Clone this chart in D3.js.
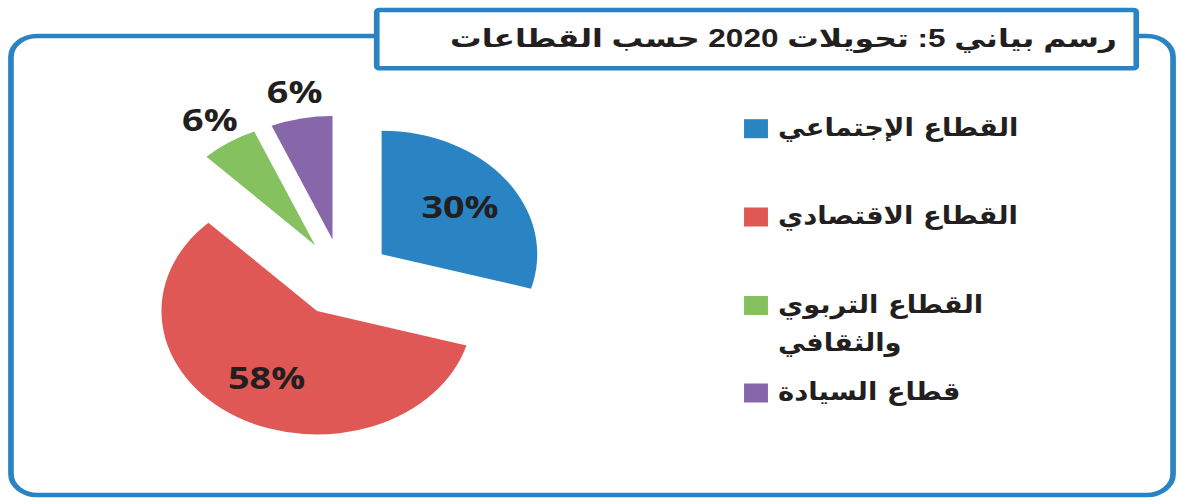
<!DOCTYPE html>
<html>
<head>
<meta charset="utf-8">
<script src="https://cdn.jsdelivr.net/npm/d3@7"></script>
<style>
  body { margin: 0; background: #fff; }
  svg { display: block; }
</style>
</head>
<body>
<div id="chart"></div>
<script>
// data
var title = "رسم بياني 5: تحويلات 2020 حسب القطاعات";
var sectors = ["القطاع الإجتماعي", "القطاع الاقتصادي", "القطاع التربوي والثقافي", "قطاع السيادة"];
var shares = [29.5, 58.2, 5.9, 6.4];
var colors = ["#2a84c4", "#e05855", "#85c15f", "#8567aa"];

// declarations
var width = 1178, height = 498;
var stretch = 1.26;            // the original picture is stretched sideways
var radius = 123.5, explode = 39;
var cx = 271.7, cy = 277.6;
var blue = "#2a84c4";

var svg = d3.select('#chart').append('svg')
    .attr('width', width).attr('height', height);

var root = svg.append('g')
    .attr('transform', 'scale(' + stretch + ',1)');

// outer frame
root.append('rect')
    .attr('x', 8.7).attr('y', 36)
    .attr('width', 922.3).attr('height', 459)
    .attr('rx', 21).attr('ry', 21)
    .attr('fill', 'none')
    .attr('stroke', blue).attr('stroke-width', 4.5);

// title box
root.append('rect')
    .attr('x', 299).attr('y', 10)
    .attr('width', 602.8).attr('height', 58.3)
    .attr('rx', 2)
    .attr('fill', 'white')
    .attr('stroke', blue).attr('stroke-width', 4.5);

root.append('text')
    .attr('x', 886.5).attr('y', 47.5)
    .style('direction', 'rtl')
    .attr('text-anchor', 'start')
    .attr('font-family', '"Liberation Sans", "DejaVu Sans"')
    .attr('font-weight', 'bold')
    .attr('font-size', '25px')
    .attr('fill', '#231f20')
    .text(title);

// pie
var pie = d3.pie().sort(null).value(function(d) { return d; });
var arc = d3.arc().innerRadius(0).outerRadius(radius);
var slices = pie(shares);

var group_pie = root.append('g')
    .attr('transform', 'translate(' + cx + ',' + cy + ')');

function apex(d) {
    var mid = (d.startAngle + d.endAngle) / 2;
    return [explode * Math.sin(mid), -explode * Math.cos(mid)];
}

group_pie.selectAll('path')
    .data(slices).enter().append('path')
    .attr('d', arc)
    .attr('fill', function(d, i) { return colors[i]; })
    .attr('transform', function(d) {
        var p = apex(d);
        return 'translate(' + p[0] + ',' + p[1] + ')';
    });

// percent labels, inside big slices and outside small ones
group_pie.selectAll('text')
    .data(slices).enter().append('text')
    .attr('x', function(d) {
        var mid = (d.startAngle + d.endAngle) / 2;
        var k = d.value >= 10 ? 0.63 : 1.22;
        return apex(d)[0] + k * radius * Math.sin(mid);
    })
    .attr('y', function(d) {
        var mid = (d.startAngle + d.endAngle) / 2;
        var k = d.value >= 10 ? 0.63 : 1.22;
        return apex(d)[1] - k * radius * Math.cos(mid);
    })
    .attr('dy', '0.36em')
    .attr('text-anchor', 'middle')
    .attr('font-family', 'Open Sans')
    .attr('font-weight', 'bold')
    .attr('font-size', '30px')
    .attr('fill', '#231f20')
    .text(function(d) { return Math.round(d.value) + '%'; });

// legend
var legend_y = [128.7, 217, 305.5, 393];
var group_legend = root.selectAll('g.legend')
    .data(sectors).enter().append('g')
    .attr('class', 'legend')
    .attr('transform', function(d, i) { return 'translate(590.5,' + legend_y[i] + ')'; });

group_legend.append('rect')
    .attr('x', 0).attr('y', -9.5)
    .attr('width', 19).attr('height', 19)
    .attr('fill', function(d, i) { return colors[i]; });

// legend names, squeezed a bit to match the narrower original face
group_legend.each(function(d) {
    var words = d.split(' ');
    var lines = words.length > 2 ? [words.slice(0, 2).join(' '), words.slice(2).join(' ')] : [d];
    d3.select(this).append('g')
        .attr('transform', 'translate(27,0) scale(0.87,1)')
        .selectAll('text')
        .data(lines).enter().append('text')
        .attr('x', 0).attr('y', function(l, j) { return 7 + j * 39; })
        .style('direction', 'rtl')
        .attr('text-anchor', 'end')
        .attr('font-family', 'DejaVu Sans')
        .attr('font-weight', 'bold')
        .attr('font-size', '25px')
        .attr('fill', '#231f20')
        .text(function(l) { return l; });
});
</script>
</body>
</html>
